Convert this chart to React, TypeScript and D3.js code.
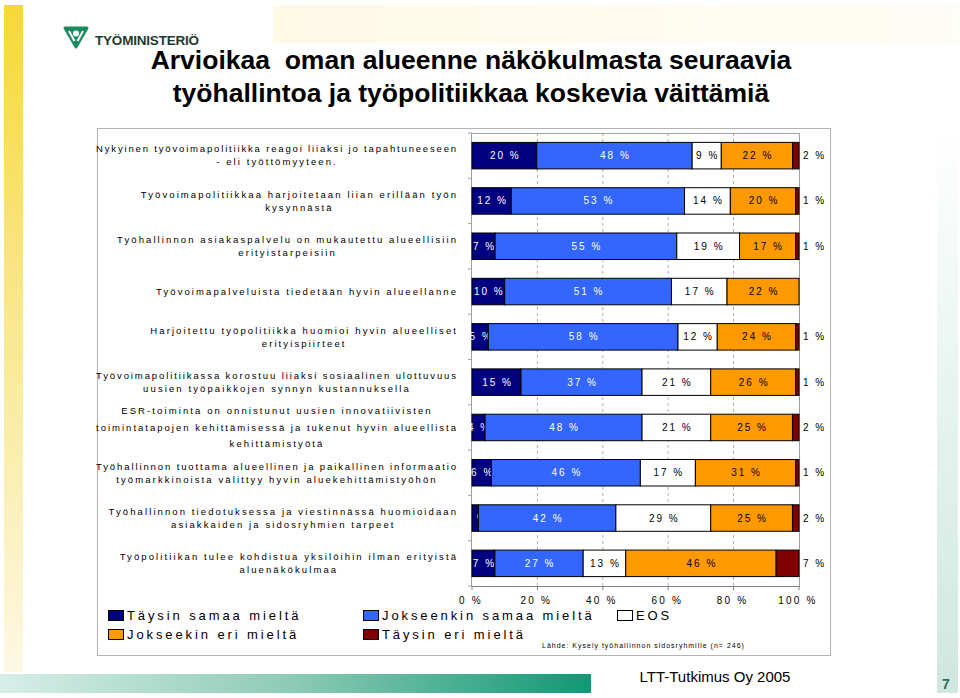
import React from "react";
import * as d3 from "d3";

const titleLines = [
  "Arvioikaa  oman alueenne näkökulmasta seuraavia",
  "työhallintoa ja työpolitiikkaa koskevia väittämiä",
];

const categories: string[][] = [
  ["Nykyinen työvoimapolitiikka reagoi liiaksi jo tapahtuneeseen", "- eli työttömyyteen."],
  ["Työvoimapolitiikkaa harjoitetaan liian erillään työn", "kysynnästä"],
  ["Työhallinnon asiakaspalvelu on mukautettu alueellisiin", "erityistarpeisiin"],
  ["Työvoimapalveluista tiedetään hyvin alueellanne"],
  ["Harjoitettu työpolitiikka huomioi hyvin alueelliset", "erityispiirteet"],
  ["Työvoimapolitiikassa korostuu liiaksi sosiaalinen ulottuvuus", "uusien työpaikkojen synnyn kustannuksella"],
  ["ESR-toiminta on onnistunut uusien innovatiivisten", "toimintatapojen kehittämisessä ja tukenut hyvin alueellista", "kehittämistyötä"],
  ["Työhallinnon tuottama alueellinen ja paikallinen informaatio", "työmarkkinoista välittyy hyvin aluekehittämistyöhön"],
  ["Työhallinnon tiedotuksessa ja viestinnässä huomioidaan", "asiakkaiden ja sidosryhmien tarpeet"],
  ["Työpolitiikan tulee kohdistua yksilöihin ilman erityistä", "aluenäkökulmaa"],
];

const seriesNames = [
  "Täysin samaa mieltä",
  "Jokseenkin samaa mieltä",
  "EOS",
  "Jokseekin eri mieltä",
  "Täysin eri mieltä",
];
const taysinSamaa = [20, 12, 7, 10, 5, 15, 4, 6, 2, 7];
const jokseenkinSamaa = [48, 53, 55, 51, 58, 37, 48, 46, 42, 27];
const eos = [9, 14, 19, 17, 12, 21, 21, 17, 29, 13];
const jokseenkinEri = [22, 20, 17, 22, 24, 26, 25, 31, 25, 46];
const taysinEri = [2, 1, 1, 0, 1, 1, 2, 1, 2, 7];
const xTicks = [0, 20, 40, 60, 80, 100];
const sourceText = "Lähde: Kysely työhallinnon sidosryhmille (n= 246)";
const footerText = "LTT-Tutkimus Oy 2005";
const pageNumber = "7";
const logoText = "TYÖMINISTERIÖ";

const seriesValues = [taysinSamaa, jokseenkinSamaa, eos, jokseenkinEri, taysinEri];
const colors = ["#000080", "#3366ff", "#ffffff", "#ff9900", "#800000"];
const labelColors = ["#ffffff", "#ffffff", "#000000", "#000000", "#000000"];

const FONT = '"Liberation Sans", Arial, Helvetica, sans-serif';

let measureCtx: CanvasRenderingContext2D | null = null;
function baseWidth(text: string, size: number): number {
  if (!measureCtx) {
    const c = document.createElement("canvas");
    measureCtx = c.getContext("2d");
  }
  if (!measureCtx) return text.length * size * 0.5;
  measureCtx.font = `${size}px "Liberation Sans"`;
  return measureCtx.measureText(text).width;
}

export default function App() {
  const W = 960;
  const H = 698;
  const plotLeft = 472;
  const plotRight = 799;
  const plotTop = 133;
  const plotBottom = 586;

  const x = d3.scaleLinear().domain([0, 100]).range([plotLeft, plotRight]);
  const y = d3
    .scaleBand<number>()
    .domain(d3.range(categories.length))
    .range([plotTop, plotBottom])
    .paddingInner(0.415)
    .paddingOuter(0.2075);

  const rows = categories.map((_, i) => {
    const vals = seriesValues.map((s) => s[i]);
    const total = d3.sum(vals);
    let acc = 0;
    return vals.map((v) => {
      const x0 = (acc / total) * 100;
      acc += v;
      const x1 = (acc / total) * 100;
      return { v, x0, x1 };
    });
  });

  const catSize = 9.5;
  const catLs = 2.1;
  const catRight = 457;
  const catMaxW = 360;

  const step = y.step();

  return (
    <svg
      width={W}
      height={H}
      style={{ position: "absolute", left: 0, top: 0, background: "#fff" }}
      fontFamily={FONT}
    >
      <defs>
        <linearGradient id="yel" x1="0" y1="0" x2="0" y2="1">
          <stop offset="0" stopColor="#f6d935" />
          <stop offset="0.35" stopColor="#f8e47a" />
          <stop offset="1" stopColor="#fdf8e4" />
        </linearGradient>
        <linearGradient id="topPale" x1="0" y1="0" x2="1" y2="0">
          <stop offset="0" stopColor="#fff9e6" />
          <stop offset="1" stopColor="#fffdf6" />
        </linearGradient>
        <linearGradient id="greenBar" x1="0" y1="0" x2="1" y2="0">
          <stop offset="0" stopColor="#d7eee8" />
          <stop offset="0.5" stopColor="#8ccab5" />
          <stop offset="1" stopColor="#119874" />
        </linearGradient>
        <linearGradient id="tealStrip" x1="0" y1="0" x2="0" y2="1">
          <stop offset="0" stopColor="#ffffff" />
          <stop offset="0.5" stopColor="#e6f3ef" />
          <stop offset="1" stopColor="#cfe7df" />
        </linearGradient>
      </defs>

      {/* decorations */}
      <rect x={273} y={5} width={687} height={38} fill="url(#topPale)" />
      <rect x={4} y={5} width={19} height={667} fill="url(#yel)" />
      <rect x={937} y={130} width={21} height={563} fill="url(#tealStrip)" />
      <rect x={0} y={674} width={591} height={19} fill="url(#greenBar)" />
      <text x={946} y={689} textAnchor="middle" fontSize={14} fontWeight="bold" fill="#2d6e5b">
        {pageNumber}
      </text>
      <text x={715} y={682} textAnchor="middle" fontSize={15} fill="#000">
        {footerText}
      </text>

      {/* logo */}
      <g transform="translate(76,37)">
        <path d="M-11,-9 L11,-9 L0,10 Z" fill="#1b8a5e" stroke="#1b8a5e" strokeWidth={3} strokeLinejoin="round" />
        <circle cx={0} cy={-3.5} r={3} fill="#fff" />
        <path d="M-7,-6 L-1.5,4 M7,-6 L1.5,4" stroke="#fff" strokeWidth={2} />
      </g>
      <text x={95} y={45} fontSize={13.5} fontWeight="bold" fill="#1f3a2f" letterSpacing={-0.2}>
        {logoText}
      </text>

      {/* title */}
      {titleLines.map((t, i) => (
        <text
          key={i}
          x={471}
          y={69 + i * 33}
          textAnchor="middle"
          fontSize={26.5}
          fontWeight="bold"
          fill="#000"
          style={{ whiteSpace: "pre" }}
        >
          {t}
        </text>
      ))}

      {/* chart frame */}
      <rect x={97.5} y={128.5} width={733} height={527} fill="#fff" stroke="#b4b4b4" strokeWidth={1} />

      {/* gridlines */}
      {xTicks
        .filter((t) => t > 0 && t < 100)
        .map((t) => (
          <line
            key={t}
            x1={x(t)}
            x2={x(t)}
            y1={plotTop}
            y2={plotBottom}
            stroke="#b0b0b0"
            strokeDasharray="3,3"
          />
        ))}
      {/* plot border */}
      <line x1={plotLeft} x2={plotRight} y1={plotTop + 0.5} y2={plotTop + 0.5} stroke="#a0a0a0" />
      <line x1={plotRight + 0.5} x2={plotRight + 0.5} y1={plotTop} y2={plotBottom} stroke="#a0a0a0" />
      {/* left axis */}
      <line x1={plotLeft - 0.5} x2={plotLeft - 0.5} y1={plotTop} y2={plotBottom} stroke="#a0a0a0" />
      {d3.range(categories.length + 1).map((k) => (
        <line
          key={k}
          x1={plotLeft - 4}
          x2={plotLeft}
          y1={plotTop + k * step}
          y2={plotTop + k * step}
          stroke="#a0a0a0"
        />
      ))}
      {/* bottom axis */}
      <line x1={plotLeft} x2={plotRight + 1} y1={plotBottom + 0.5} y2={plotBottom + 0.5} stroke="#808080" />
      {xTicks.map((t) => (
        <g key={t}>
          <line x1={x(t)} x2={x(t)} y1={plotBottom} y2={plotBottom + 4} stroke="#808080" />
          <text
            x={x(t) - 1}
            y={604}
            textAnchor="middle"
            fontSize={10}
            letterSpacing={2.2}
            fill="#000"
          >
            {`${t} %`}
          </text>
        </g>
      ))}

      {/* bars: series by series so later rects cover earlier labels */}
      {seriesValues.map((_, si) => (
        <g key={si}>
          {rows.map((r, ci) => {
            const seg = r[si];
            if (seg.v <= 0) return null;
            const bx = x(seg.x0);
            const bw = x(seg.x1) - x(seg.x0);
            const by = y(ci)!;
            const bh = y.bandwidth();
            const cy = by + bh / 2;
            const isLast = si === seriesValues.length - 1;
            return (
              <g key={ci}>
                <rect x={bx} y={by} width={bw} height={bh} fill={colors[si]} stroke="#000" strokeWidth={1} />
                {isLast ? (
                  <text x={plotRight + 4} y={cy + 3.5} fontSize={10} letterSpacing={2} fill="#000">
                    {`${seg.v} %`}
                  </text>
                ) : (
                  <text
                    x={bx + bw / 2 + 1}
                    y={cy + 3.5}
                    textAnchor="middle"
                    fontSize={10}
                    letterSpacing={2}
                    fill={labelColors[si]}
                  >
                    {`${seg.v} %`}
                  </text>
                )}
              </g>
            );
          })}
        </g>
      ))}

      {/* category labels */}
      {categories.map((lines, ci) => {
        const items = lines.map((l) => {
          const bw = baseWidth(l, catSize);
          const n = Math.max(1, l.length - 1);
          const ls = Math.min(catLs, (catMaxW - bw) / n);
          return { l, ls, w: bw + ls * n };
        });
        const maxW = Math.max(...items.map((it) => it.w));
        const cx = catRight - maxW / 2;
        const lh = lines.length > 2 ? 16.5 : 13;
        const cy = y(ci)! + y.bandwidth() / 2;
        const startY = cy - ((lines.length - 1) * lh) / 2;
        return (
          <g key={ci}>
            {items.map((it, li) => (
              <text
                key={li}
                x={cx}
                y={startY + li * lh + 3.3}
                textAnchor="middle"
                fontSize={catSize}
                letterSpacing={it.ls}
                fill="#000"
              >
                {it.l}
              </text>
            ))}
          </g>
        );
      })}

      {/* legend */}
      {seriesNames.map((name, i) => {
        const col = i < 3 ? i : i - 3;
        const row = i < 3 ? 0 : 1;
        const lx = [108, 363, 617][col];
        const ly = [615, 634][row];
        return (
          <g key={name}>
            <rect x={lx + 0.5} y={ly - 4.5} width={15} height={10} fill={colors[i]} stroke="#000" strokeWidth={1} />
            <text x={lx + 19} y={ly + 4.8} fontSize={13} letterSpacing={2.9} fill="#000">
              {name}
            </text>
          </g>
        );
      })}
      <text x={542} y={648} fontSize={7} letterSpacing={1} fill="#000">
        {sourceText}
      </text>
    </svg>
  );
}
